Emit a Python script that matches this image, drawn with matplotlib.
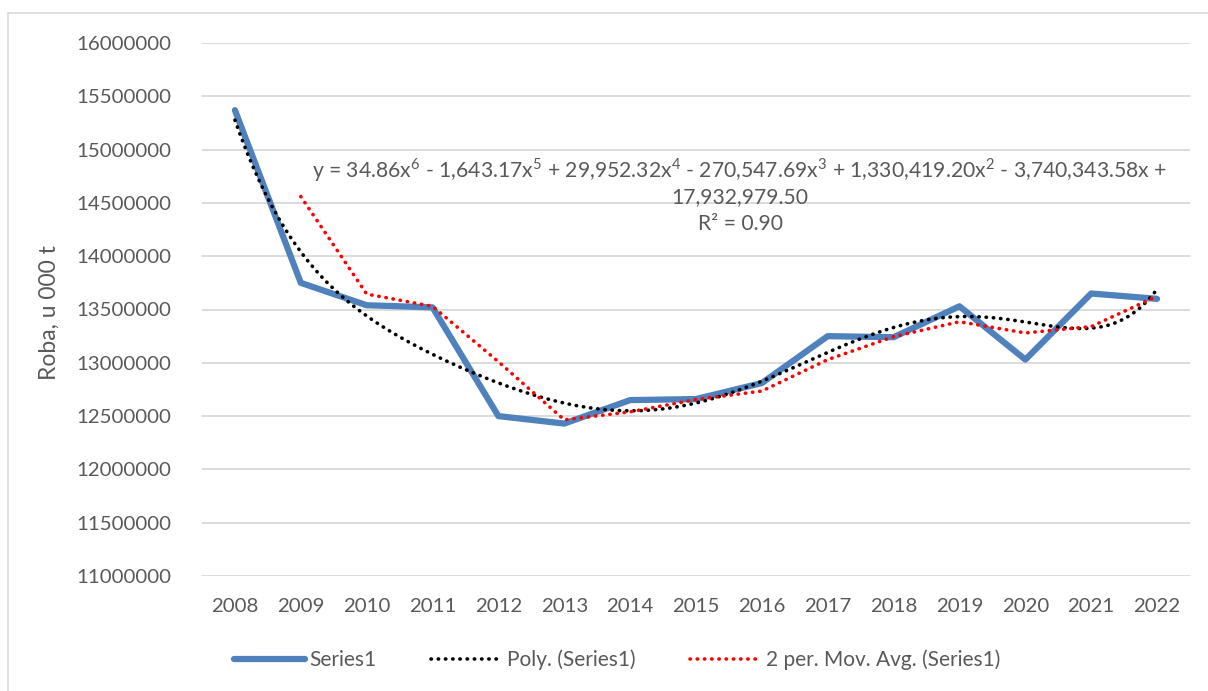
import numpy as np
import pandas as pd
import matplotlib
matplotlib.use('Agg')
import matplotlib.pyplot as plt
from matplotlib.patches import Rectangle

years = [2008, 2009, 2010, 2011, 2012, 2013, 2014, 2015,
         2016, 2017, 2018, 2019, 2020, 2021, 2022]
series1 = [15370000, 13750000, 13540000, 13520000, 12500000, 12430000, 12650000, 12660000,
           12810000, 13250000, 13240000, 13530000, 13030000, 13650000, 13600000]
y_ticks = [11000000, 11500000, 12000000, 12500000, 13000000, 13500000,
           14000000, 14500000, 15000000, 15500000, 16000000]
eq_text = ("y = 34.86x$^6$ - 1,643.17x$^5$ + 29,952.32x$^4$ - 270,547.69x$^3$ "
           "+ 1,330,419.20x$^2$ - 3,740,343.58x +\n17,932,979.50")
r2_text = "R² = 0.90"

plt.rcParams['font.family'] = ['Lato', 'DejaVu Sans']
plt.rcParams['mathtext.fontset'] = 'custom'
plt.rcParams['mathtext.rm'] = 'Lato'
text_col = '#595959'

fig = plt.figure(figsize=(12.08, 6.91), dpi=100)
ax = fig.add_axes([202 / 1208, 1 - 576 / 691, (1190 - 202) / 1208, (576 - 43) / 691])

# chart area border (Excel)
fig.patches.append(Rectangle((8 / 1208, -0.1), 1.2, 1 - 13 / 691 + 0.1, transform=fig.transFigure,
                             fill=False, edgecolor='#d9d9d9', linewidth=1.2))

x = np.arange(1, len(years) + 1)
s = pd.Series(series1, index=years)
mov = s.rolling(2).mean()
coef = np.polyfit(x, series1, 6)
xs = np.linspace(1, len(years), 300)
poly = np.polyval(coef, xs)
xs_years = years[0] + xs - 1

dot = (0, (0.1, 1.9))
ax.plot(years, series1, color='#4f81bd', linewidth=4.5, solid_capstyle='round',
        solid_joinstyle='round', label='Series1', zorder=3)
ax.plot(xs_years, poly, color='black', linewidth=2.6, linestyle=dot,
        dash_capstyle='round', label='Poly. (Series1)', zorder=4)
ax.plot(years, mov.values, color='#ff0000', linewidth=2.6, linestyle=dot,
        dash_capstyle='round', label='2 per. Mov. Avg. (Series1)', zorder=4)

ax.set_xlim(years[0] - 0.5, years[-1] + 0.5)
ax.set_ylim(y_ticks[0], y_ticks[-1])
ax.set_xticks(years)
ax.set_xticklabels([str(y) for y in years])
ax.set_yticks(y_ticks)
ax.set_yticklabels([str(v) for v in y_ticks])
ax.tick_params(length=0, labelsize=14.7, labelcolor=text_col)
ax.tick_params(axis='x', pad=16)
ax.tick_params(axis='y', pad=22)
ax.grid(axis='y', color='#d9d9d9', linewidth=1.3)
ax.set_axisbelow(True)
for sp in ax.spines.values():
    sp.set_visible(False)
ax.set_ylabel('Roba, u 000 t', fontsize=16.5, color=text_col)
ax.yaxis.set_label_coords((60 - 202) / (1190 - 202), (576 - 313) / (576 - 43))

ax.text(740 / 1208, 1 - 182 / 691, eq_text, transform=fig.transFigure, ha='center', va='center',
        fontsize=15.2, color=text_col, linespacing=1.2)
ax.text(740 / 1208, 1 - 224 / 691, r2_text, transform=fig.transFigure, ha='center', va='center',
        fontsize=15.2, color=text_col)

leg = ax.legend(loc='center', bbox_to_anchor=(617 / 1208, 1 - 660 / 691),
                bbox_transform=fig.transFigure, ncol=3, frameon=False, fontsize=15,
                handlelength=3.4, handletextpad=0.25, columnspacing=2.6)
for t in leg.get_texts():
    t.set_color(text_col)

fig.savefig('out.png', dpi=100, facecolor='white')
